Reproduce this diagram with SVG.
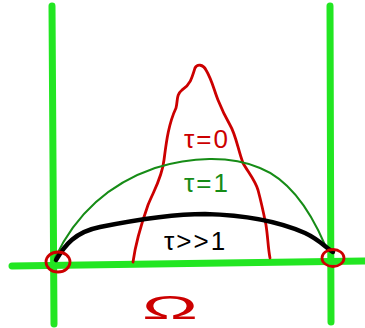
<svg xmlns="http://www.w3.org/2000/svg" width="365" height="328" viewBox="0 0 365 328">
<style>
.axis{stroke:#22e622;stroke-width:7;stroke-linecap:round;fill:none}
.red{stroke:#cc0000;stroke-width:2.8;fill:none;stroke-linecap:round;stroke-linejoin:round}
.t{font-family:"Liberation Sans",Arial,sans-serif;font-size:26px;letter-spacing:2px}
</style>
<rect width="365" height="328" fill="#ffffff"/>
<g id="axes">
<line class="axis" x1="52" y1="6" x2="54" y2="324"/>
<line class="axis" x1="330" y1="6" x2="331" y2="322"/>
<line class="axis" x1="12" y1="266" x2="364" y2="261"/>
</g>
<g id="curve-tau0">
<path class="red" d="M133,262 C136,240 142,222 148,205 C154,190 162,178 164,160 C166,145 168,125 176,108 C178,100 176,95 182,90 C190,85 192,78 195,68 C197,64 203,64 206,70 C212,80 214,90 218,100 C222,110 226,118 230,125 C236,135 238,150 243,163 C248,172 255,180 258,190 C262,205 264,215 266,225 C268,238 268,248 270,258"/>
</g>
<g id="curve-tau1">
<path d="M55,258 C80,205 120,180 155,168 C190,157 230,155 260,168 C290,180 310,210 325,245" stroke="#168c16" stroke-width="2" fill="none"/>
</g>
<g id="curve-taubig">
<path d="M56,260 C65,245 75,232 100,227 C140,219 175,214 205,214 C245,215 280,222 305,233 C320,240 326,248 333,252" stroke="#000" stroke-width="4.5" fill="none" stroke-linecap="round"/>
</g>
<g id="circles">
<ellipse class="red" cx="58" cy="262" rx="12" ry="10"/>
<ellipse class="red" cx="333" cy="258" rx="11" ry="8.5"/>
</g>
<g id="labels">
<text class="t" x="184" y="148" fill="#cc0000">τ=0</text>
<text class="t" x="184" y="192" fill="#168c16">τ=1</text>
<text class="t" x="164" y="250" fill="#000">τ&gt;&gt;1</text>
<text x="142" y="319" fill="#cc0000" textLength="56" lengthAdjust="spacingAndGlyphs" style="font-family:'Liberation Sans',Arial,sans-serif;font-size:34px">Ω</text>
</g>
</svg>
